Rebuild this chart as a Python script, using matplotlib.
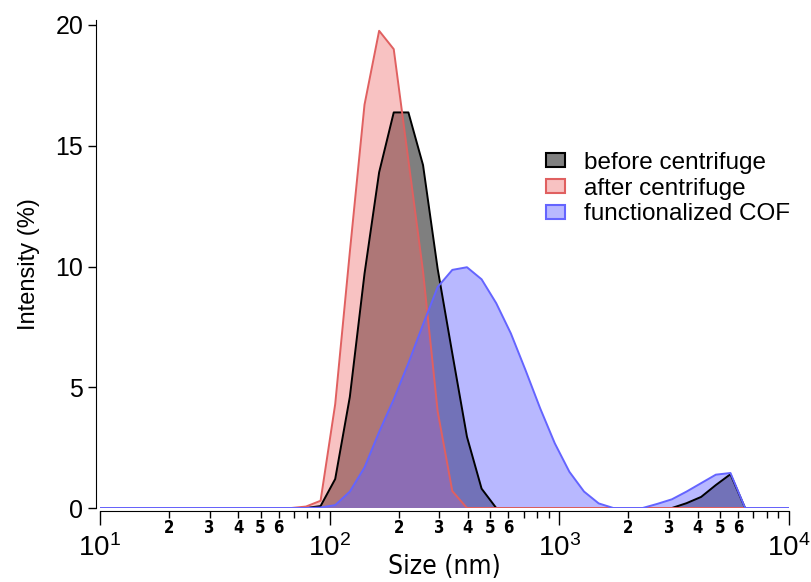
import numpy as np
import matplotlib
matplotlib.use('Agg')
import matplotlib.pyplot as plt
from matplotlib import font_manager
from matplotlib.ticker import FixedLocator, FuncFormatter
from matplotlib.patches import Patch

# narrow face for the size axis, if one is around
names = set((f.name, f.stretch) for f in font_manager.fontManager.ttflist)
if any(n == 'Liberation Sans Narrow' for n, s in names):
    narrow = dict(family='Liberation Sans Narrow')
    narrow_pat = 'Liberation Sans Narrow'
elif ('DejaVu Sans', 'condensed') in names:
    narrow = dict(family='DejaVu Sans', stretch='condensed')
    narrow_pat = 'DejaVu Sans:stretch=condensed'
else:
    narrow = dict(family='Liberation Sans')
    narrow_pat = 'Liberation Sans'

plt.rcParams['font.family'] = ['Liberation Sans', 'DejaVu Sans']
plt.rcParams['mathtext.fontset'] = 'custom'
plt.rcParams['mathtext.rm'] = narrow_pat
plt.rcParams['mathtext.it'] = narrow_pat

# DLS size classes (nm)
size_nm = [10.10, 11.70, 13.54, 15.69, 18.17, 21.04, 24.36, 28.21, 32.67, 37.84,
           43.82, 50.75, 58.77, 68.06, 78.82, 91.28, 105.7, 122.4, 141.8, 164.2,
           190.1, 220.2, 255.0, 295.3, 342.0, 396.1, 458.7, 531.2, 615.1, 712.4,
           825.0, 955.4, 1106, 1281, 1484, 1718, 1990, 2305, 2669, 3091,
           3580, 4145, 4801, 5560, 6439, 7456, 8635, 10000]

# intensity distributions (%)
before = [0, 0, 0, 0, 0, 0, 0, 0, 0, 0,
          0, 0, 0, 0, 0, 0.08, 1.2, 4.6, 9.7, 13.9,
          16.38, 16.38, 14.2, 9.9, 6.4, 2.95, 0.8, 0, 0, 0,
          0, 0, 0, 0, 0, 0, 0, 0, 0, 0,
          0.2, 0.46, 0.95, 1.4, 0, 0, 0, 0]
after = [0, 0, 0, 0, 0, 0, 0, 0, 0, 0,
         0, 0, 0, 0, 0.06, 0.3, 4.3, 10.6, 16.7, 19.76,
         19.0, 14.4, 9.8, 4.0, 0.7, 0, 0, 0, 0, 0,
         0, 0, 0, 0, 0, 0, 0, 0, 0, 0,
         0, 0, 0, 0, 0, 0, 0, 0]
cof = [0, 0, 0, 0, 0, 0, 0, 0, 0, 0,
       0, 0, 0, 0, 0, 0.02, 0.12, 0.68, 1.68, 3.15,
       4.5, 6.0, 7.6, 9.15, 9.86, 9.97, 9.47, 8.48, 7.23, 5.71,
       4.13, 2.68, 1.5, 0.68, 0.19, 0, 0, 0, 0.17, 0.36,
       0.68, 1.03, 1.38, 1.45, 0, 0, 0, 0]

labels = ['before centrifuge', 'after centrifuge', 'functionalized COF']
fill_cols = [(0, 0, 0, 0.5), (0.94, 0.43, 0.43, 0.42), (0.39, 0.39, 1.0, 0.45)]
line_cols = ['black', '#e06060', '#6464ff']

W, H = 811, 582
fig = plt.figure(figsize=(W / 100, H / 100), dpi=100)
ymax = 20.2
ax = fig.add_axes([100 / W, 1 - 508 / H, 689 / W, ymax * 24.15 / H])

handles = []
for yy, fc, lc, lab in zip([before, after, cof], fill_cols, line_cols, labels):
    ax.fill_between(size_nm, 0, yy, facecolor=fc, edgecolor='none')
    ax.plot(size_nm, yy, color=lc, lw=1.4)
    handles.append(Patch(facecolor=fc, edgecolor=lc, lw=1.5, label=lab))

ax.set_xscale('log')
ax.set_xlim(10, 10000)
ax.set_ylim(0, ymax)

for s in ['top', 'right']:
    ax.spines[s].set_visible(False)
ax.spines['left'].set_position(('outward', 3))
ax.spines['bottom'].set_position(('outward', 2))

ax.set_yticks([0, 5, 10, 15, 20])
ax.tick_params(axis='y', direction='out', length=6, width=1, labelsize=18, pad=3)

minors = [m * 10 ** d for d in range(1, 4) for m in range(2, 10)]
ax.xaxis.set_minor_locator(FixedLocator(minors))


def minor_label(v, pos):
    m = int(round(v / 10 ** np.floor(np.log10(v) + 1e-9)))
    return '%d' % m if m <= 6 else ''


ax.xaxis.set_minor_formatter(FuncFormatter(minor_label))
ax.tick_params(axis='x', which='major', direction='out', length=10, width=1,
               labelsize=20, pad=7)
ax.tick_params(axis='x', which='minor', direction='out', length=5, width=1,
               labelsize=12, pad=1)
for t in ax.xaxis.get_minorticklabels():
    t.update(narrow)
    t.set_fontweight('bold')

ax.set_xlabel('Size (nm)', fontsize=19, labelpad=-6, **narrow)
ax.set_ylabel('Intensity (%)', fontsize=17, labelpad=11)

fig.legend(handles=handles, loc='upper left', bbox_to_anchor=(546 / W, 1 - 152 / H),
           frameon=False, fontsize=17.5, handlelength=0.8, handleheight=0.5,
           handletextpad=0.75, labelspacing=0.15, borderpad=0, borderaxespad=0)

fig.savefig('out.png', dpi=100)
